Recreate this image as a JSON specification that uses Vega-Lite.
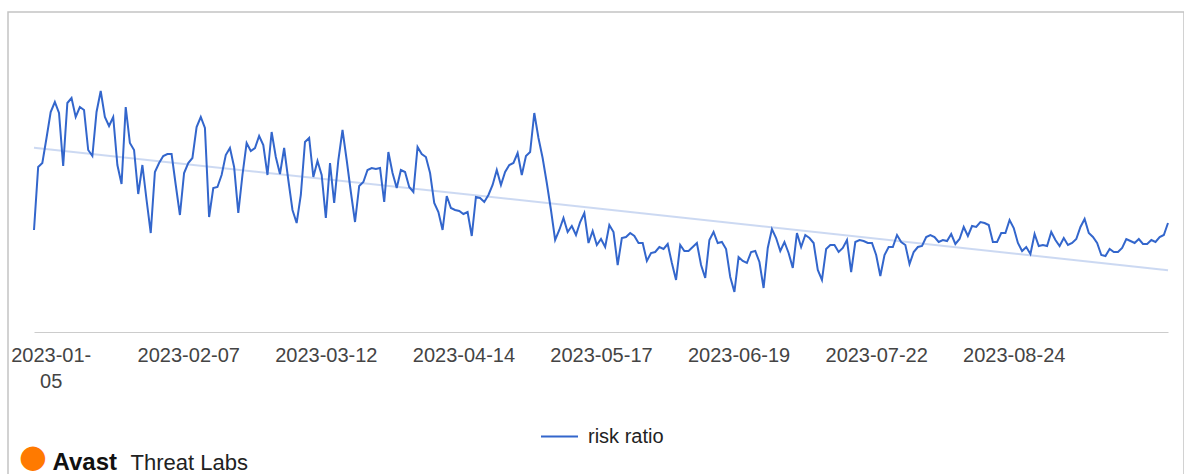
{
"$schema": "https://vega.github.io/schema/vega-lite/v6.json",
"width": 1176,
"height": 470,
"autosize": {"type": "none"},
"padding": {"left": 8, "top": 12, "right": 0, "bottom": 0},
"background": "#ffffff",
"config": {"view": {"stroke": "#c4c4c4", "strokeWidth": 1.5}, "font": "Liberation Sans"},
"title": {"text": "●", "anchor": "start", "orient": "top", "frame": "group", "color": "#ff7a00", "fontSize": 32, "font": "DejaVu Sans", "dx": 11, "dy": 462, "offset": 0},
"data": {"values": [
{"date":"2023-01-01","value":102},{"date":"2023-01-02","value":165},{"date":"2023-01-03","value":169},{"date":"2023-01-04","value":194},{"date":"2023-01-05","value":220},{"date":"2023-01-06","value":230},{"date":"2023-01-07","value":219},{"date":"2023-01-08","value":166},{"date":"2023-01-09","value":229},{"date":"2023-01-10","value":234},{"date":"2023-01-11","value":215},{"date":"2023-01-12","value":225},{"date":"2023-01-13","value":222},{"date":"2023-01-14","value":182},{"date":"2023-01-15","value":176},{"date":"2023-01-16","value":220},{"date":"2023-01-17","value":241},{"date":"2023-01-18","value":215},{"date":"2023-01-19","value":206},{"date":"2023-01-20","value":215},{"date":"2023-01-21","value":167},{"date":"2023-01-22","value":148},{"date":"2023-01-23","value":225},{"date":"2023-01-24","value":189},{"date":"2023-01-25","value":182},{"date":"2023-01-26","value":138},{"date":"2023-01-27","value":167},{"date":"2023-01-28","value":132},{"date":"2023-01-29","value":99},{"date":"2023-01-30","value":160},{"date":"2023-01-31","value":169},
{"date":"2023-02-01","value":176},{"date":"2023-02-02","value":178},{"date":"2023-02-03","value":178},{"date":"2023-02-04","value":147},{"date":"2023-02-05","value":117},{"date":"2023-02-06","value":159},{"date":"2023-02-07","value":169},{"date":"2023-02-08","value":174},{"date":"2023-02-09","value":205},{"date":"2023-02-10","value":215},{"date":"2023-02-11","value":204},{"date":"2023-02-12","value":115},{"date":"2023-02-13","value":144},{"date":"2023-02-14","value":145},{"date":"2023-02-15","value":157},{"date":"2023-02-16","value":177},{"date":"2023-02-17","value":184},{"date":"2023-02-18","value":165},{"date":"2023-02-19","value":119},{"date":"2023-02-20","value":157},{"date":"2023-02-21","value":189},{"date":"2023-02-22","value":181},{"date":"2023-02-23","value":184},{"date":"2023-02-24","value":196},{"date":"2023-02-25","value":187},{"date":"2023-02-26","value":157},{"date":"2023-02-27","value":200},{"date":"2023-02-28","value":175},
{"date":"2023-03-01","value":158},{"date":"2023-03-02","value":184},{"date":"2023-03-03","value":152},{"date":"2023-03-04","value":122},{"date":"2023-03-05","value":109},{"date":"2023-03-06","value":137},{"date":"2023-03-07","value":190},{"date":"2023-03-08","value":194},{"date":"2023-03-09","value":155},{"date":"2023-03-10","value":171},{"date":"2023-03-11","value":157},{"date":"2023-03-12","value":114},{"date":"2023-03-13","value":169},{"date":"2023-03-14","value":129},{"date":"2023-03-15","value":172},{"date":"2023-03-16","value":202},{"date":"2023-03-17","value":172},{"date":"2023-03-18","value":140},{"date":"2023-03-19","value":110},{"date":"2023-03-20","value":146},{"date":"2023-03-21","value":150},{"date":"2023-03-22","value":162},{"date":"2023-03-23","value":164},{"date":"2023-03-24","value":163},{"date":"2023-03-25","value":164},{"date":"2023-03-26","value":130},{"date":"2023-03-27","value":180},{"date":"2023-03-28","value":159},{"date":"2023-03-29","value":144},{"date":"2023-03-30","value":162},{"date":"2023-03-31","value":160},
{"date":"2023-04-01","value":145},{"date":"2023-04-02","value":140},{"date":"2023-04-03","value":185},{"date":"2023-04-04","value":178},{"date":"2023-04-05","value":175},{"date":"2023-04-06","value":159},{"date":"2023-04-07","value":129},{"date":"2023-04-08","value":120},{"date":"2023-04-09","value":102},{"date":"2023-04-10","value":136},{"date":"2023-04-11","value":124},{"date":"2023-04-12","value":122},{"date":"2023-04-13","value":121},{"date":"2023-04-14","value":118},{"date":"2023-04-15","value":120},{"date":"2023-04-16","value":96},{"date":"2023-04-17","value":135},{"date":"2023-04-18","value":134},{"date":"2023-04-19","value":130},{"date":"2023-04-20","value":137},{"date":"2023-04-21","value":147},{"date":"2023-04-22","value":162},{"date":"2023-04-23","value":147},{"date":"2023-04-24","value":160},{"date":"2023-04-25","value":167},{"date":"2023-04-26","value":169},{"date":"2023-04-27","value":179},{"date":"2023-04-28","value":157},{"date":"2023-04-29","value":176},{"date":"2023-04-30","value":180},
{"date":"2023-05-01","value":219},{"date":"2023-05-02","value":194},{"date":"2023-05-03","value":174},{"date":"2023-05-04","value":149},{"date":"2023-05-05","value":122},{"date":"2023-05-06","value":92},{"date":"2023-05-07","value":102},{"date":"2023-05-08","value":114},{"date":"2023-05-09","value":100},{"date":"2023-05-10","value":106},{"date":"2023-05-11","value":97},{"date":"2023-05-12","value":110},{"date":"2023-05-13","value":119},{"date":"2023-05-14","value":89},{"date":"2023-05-15","value":101},{"date":"2023-05-16","value":87},{"date":"2023-05-17","value":93},{"date":"2023-05-18","value":85},{"date":"2023-05-19","value":107},{"date":"2023-05-20","value":100},{"date":"2023-05-21","value":67},{"date":"2023-05-22","value":94},{"date":"2023-05-23","value":95},{"date":"2023-05-24","value":99},{"date":"2023-05-25","value":96},{"date":"2023-05-26","value":89},{"date":"2023-05-27","value":89},{"date":"2023-05-28","value":71},{"date":"2023-05-29","value":79},{"date":"2023-05-30","value":80},{"date":"2023-05-31","value":85},
{"date":"2023-06-01","value":83},{"date":"2023-06-02","value":88},{"date":"2023-06-03","value":69},{"date":"2023-06-04","value":52},{"date":"2023-06-05","value":87},{"date":"2023-06-06","value":81},{"date":"2023-06-07","value":81},{"date":"2023-06-08","value":85},{"date":"2023-06-09","value":89},{"date":"2023-06-10","value":67},{"date":"2023-06-11","value":54},{"date":"2023-06-12","value":92},{"date":"2023-06-13","value":100},{"date":"2023-06-14","value":89},{"date":"2023-06-15","value":90},{"date":"2023-06-16","value":83},{"date":"2023-06-17","value":55},{"date":"2023-06-18","value":40},{"date":"2023-06-19","value":75},{"date":"2023-06-20","value":71},{"date":"2023-06-21","value":69},{"date":"2023-06-22","value":80},{"date":"2023-06-23","value":81},{"date":"2023-06-24","value":70},{"date":"2023-06-25","value":44},{"date":"2023-06-26","value":84},{"date":"2023-06-27","value":103},{"date":"2023-06-28","value":94},{"date":"2023-06-29","value":81},{"date":"2023-06-30","value":90},
{"date":"2023-07-01","value":79},{"date":"2023-07-02","value":64},{"date":"2023-07-03","value":99},{"date":"2023-07-04","value":85},{"date":"2023-07-05","value":97},{"date":"2023-07-06","value":94},{"date":"2023-07-07","value":89},{"date":"2023-07-08","value":62},{"date":"2023-07-09","value":52},{"date":"2023-07-10","value":83},{"date":"2023-07-11","value":87},{"date":"2023-07-12","value":87},{"date":"2023-07-13","value":80},{"date":"2023-07-14","value":84},{"date":"2023-07-15","value":92},{"date":"2023-07-16","value":60},{"date":"2023-07-17","value":90},{"date":"2023-07-18","value":92},{"date":"2023-07-19","value":91},{"date":"2023-07-20","value":89},{"date":"2023-07-21","value":89},{"date":"2023-07-22","value":77},{"date":"2023-07-23","value":56},{"date":"2023-07-24","value":77},{"date":"2023-07-25","value":85},{"date":"2023-07-26","value":85},{"date":"2023-07-27","value":97},{"date":"2023-07-28","value":90},{"date":"2023-07-29","value":87},{"date":"2023-07-30","value":68},{"date":"2023-07-31","value":80},
{"date":"2023-08-01","value":85},{"date":"2023-08-02","value":86},{"date":"2023-08-03","value":95},{"date":"2023-08-04","value":97},{"date":"2023-08-05","value":95},{"date":"2023-08-06","value":90},{"date":"2023-08-07","value":92},{"date":"2023-08-08","value":91},{"date":"2023-08-09","value":98},{"date":"2023-08-10","value":88},{"date":"2023-08-11","value":93},{"date":"2023-08-12","value":105},{"date":"2023-08-13","value":96},{"date":"2023-08-14","value":106},{"date":"2023-08-15","value":105},{"date":"2023-08-16","value":110},{"date":"2023-08-17","value":109},{"date":"2023-08-18","value":107},{"date":"2023-08-19","value":90},{"date":"2023-08-20","value":90},{"date":"2023-08-21","value":99},{"date":"2023-08-22","value":99},{"date":"2023-08-23","value":112},{"date":"2023-08-24","value":104},{"date":"2023-08-25","value":89},{"date":"2023-08-26","value":81},{"date":"2023-08-27","value":85},{"date":"2023-08-28","value":78},{"date":"2023-08-29","value":98},{"date":"2023-08-30","value":86},{"date":"2023-08-31","value":87},
{"date":"2023-09-01","value":86},{"date":"2023-09-02","value":100},{"date":"2023-09-03","value":92},{"date":"2023-09-04","value":86},{"date":"2023-09-05","value":94},{"date":"2023-09-06","value":87},{"date":"2023-09-07","value":89},{"date":"2023-09-08","value":93},{"date":"2023-09-09","value":105},{"date":"2023-09-10","value":113},{"date":"2023-09-11","value":99},{"date":"2023-09-12","value":95},{"date":"2023-09-13","value":89},{"date":"2023-09-14","value":77},{"date":"2023-09-15","value":76},{"date":"2023-09-16","value":83},{"date":"2023-09-17","value":80},{"date":"2023-09-18","value":80},{"date":"2023-09-19","value":84},{"date":"2023-09-20","value":93},{"date":"2023-09-21","value":91},{"date":"2023-09-22","value":89},{"date":"2023-09-23","value":93},{"date":"2023-09-24","value":88},{"date":"2023-09-25","value":88},{"date":"2023-09-26","value":92},{"date":"2023-09-27","value":90},{"date":"2023-09-28","value":95},{"date":"2023-09-29","value":97},{"date":"2023-09-30","value":109}
]},
"encoding": {
  "x": {"field": "date", "type": "temporal",
    "scale": {"type": "utc", "range": [26, 1160], "nice": false},
    "axis": {
      "values": [{"year":2023,"month":1,"date":5,"utc":true},{"year":2023,"month":2,"date":7,"utc":true},{"year":2023,"month":3,"date":12,"utc":true},{"year":2023,"month":4,"date":14,"utc":true},{"year":2023,"month":5,"date":17,"utc":true},{"year":2023,"month":6,"date":19,"utc":true},{"year":2023,"month":7,"date":22,"utc":true},{"year":2023,"month":8,"date":24,"utc":true}],
      "labelExpr": "utcFormat(datum.value, '%m-%d') === '01-05' ? ['2023-01-', '05'] : utcFormat(datum.value, '%Y-%m-%d')",
      "labelFontSize": 20, "labelFont": "Liberation Sans", "labelColor": "#444444",
      "labelPadding": 13, "labelLineHeight": 26, "labelOverlap": false, "labelBound": false, "labelFlush": false,
      "labelBaseline": "top",
      "ticks": false, "grid": false, "domainColor": "#cccccc", "domainWidth": 1,
      "offset": -150,
      "title": "Threat Labs", "titleX": 122, "titleY": 137, "titleAlign": "left", "titleBaseline": "alphabetic",
      "titleFontSize": 22, "titleFontWeight": "normal", "titleFont": "Liberation Sans", "titleColor": "#222222"
    }
  },
  "y": {"field": "value", "type": "quantitative",
    "scale": {"domain": [0, 320], "range": [320, 0], "nice": false, "zero": false},
    "axis": {"labels": false, "ticks": false, "domain": false, "grid": false,
      "title": "Avast", "titleAngle": 0, "titleX": 44, "titleY": 457, "titleAlign": "left", "titleBaseline": "alphabetic",
      "titleFontSize": 24, "titleFontWeight": "bold", "titleFont": "Liberation Sans", "titleColor": "#111111"}
  }
},
"layer": [
  {"transform": [{"regression": "value", "on": "date"}],
   "mark": {"type": "line", "color": "#3366cc", "opacity": 0.25, "strokeWidth": 2}},
  {"mark": {"type": "line", "strokeWidth": 2},
   "encoding": {"color": {"datum": "risk ratio", "type": "nominal", "scale": {"range": ["#3366cc"]},
     "legend": {"orient": "none", "legendX": 532, "legendY": 405, "title": null, "padding": 0,
       "symbolType": "stroke", "symbolSize": 1369, "symbolStrokeWidth": 2,
       "labelFontSize": 20, "labelFont": "Liberation Sans", "labelColor": "#222222", "labelOffset": 9}}}}
]
}
